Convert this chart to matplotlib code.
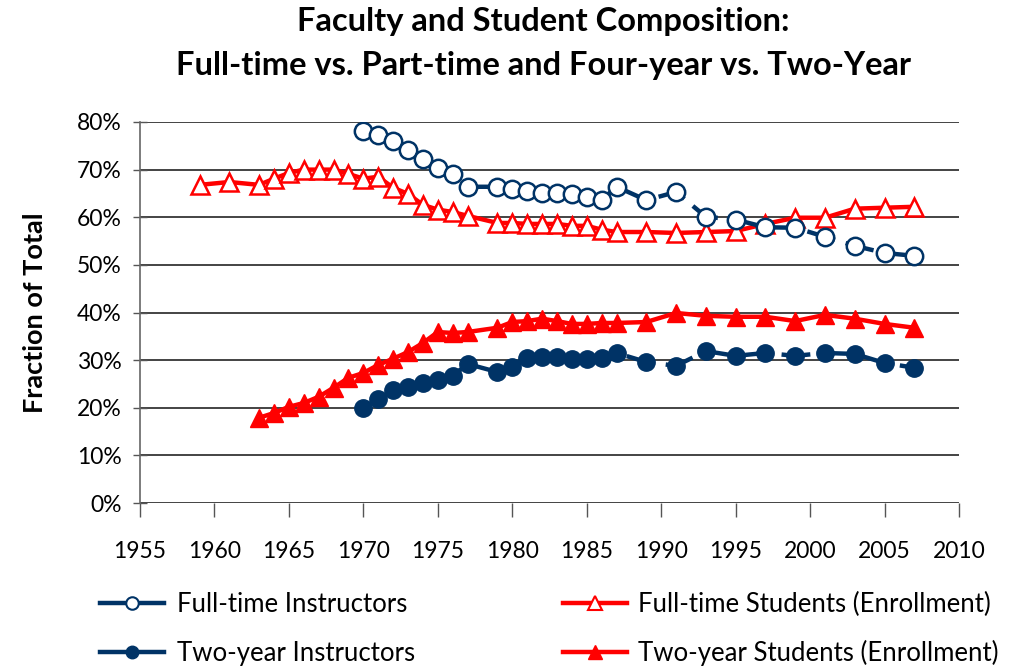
import matplotlib
matplotlib.use("Agg")
import matplotlib.pyplot as plt
from matplotlib.lines import Line2D
from matplotlib.ticker import PercentFormatter, MultipleLocator

plt.rcParams['font.family'] = ['Lato', 'DejaVu Sans']

# ---------------- data ----------------
fti_years = [1970, 1971, 1972, 1973, 1974, 1975, 1976, 1977, 1979, 1980, 1981, 1982,
             1983, 1984, 1985, 1986, 1987, 1989, 1991, 1993, 1995, 1997, 1999, 2001,
             2003, 2005, 2007]
fti_vals = [0.782, 0.773, 0.761, 0.742, 0.723, 0.704, 0.691, 0.664, 0.664, 0.660, 0.655,
            0.651, 0.651, 0.649, 0.643, 0.636, 0.664, 0.636, 0.653, 0.601, 0.595, 0.579,
            0.578, 0.559, 0.540, 0.525, 0.519]

tyi_years = fti_years
tyi_vals = [0.200, 0.218, 0.237, 0.244, 0.252, 0.258, 0.267, 0.292, 0.275, 0.286, 0.305,
            0.307, 0.307, 0.303, 0.303, 0.305, 0.315, 0.296, 0.288, 0.319, 0.309, 0.315,
            0.309, 0.315, 0.313, 0.294, 0.284]

fts_years = [1959, 1961, 1963, 1964, 1965, 1966, 1967, 1968, 1969, 1970, 1971, 1972, 1973,
             1974, 1975, 1976, 1977, 1979, 1980, 1981, 1982, 1983, 1984, 1985, 1986, 1987,
             1989, 1991, 1993, 1995, 1997, 1999, 2001, 2003, 2005, 2007]
fts_vals = [0.668, 0.674, 0.668, 0.681, 0.693, 0.700, 0.700, 0.700, 0.691, 0.681, 0.685,
            0.662, 0.649, 0.626, 0.616, 0.611, 0.603, 0.588, 0.588, 0.586, 0.586, 0.586,
            0.582, 0.582, 0.574, 0.569, 0.569, 0.567, 0.569, 0.571, 0.586, 0.599, 0.599,
            0.618, 0.620, 0.622]

tys_years = [1963, 1964, 1965, 1966, 1967, 1968, 1969, 1970, 1971, 1972, 1973, 1974, 1975,
             1976, 1977, 1979, 1980, 1981, 1982, 1983, 1984, 1985, 1986, 1987, 1989, 1991,
             1993, 1995, 1997, 1999, 2001, 2003, 2005, 2007]
tys_vals = [0.179, 0.189, 0.202, 0.210, 0.223, 0.242, 0.263, 0.273, 0.290, 0.303, 0.317,
            0.336, 0.359, 0.357, 0.359, 0.368, 0.380, 0.382, 0.387, 0.382, 0.376, 0.376,
            0.378, 0.378, 0.380, 0.399, 0.393, 0.391, 0.391, 0.382, 0.395, 0.387, 0.376,
            0.368]

labels = ["Full-time Instructors", "Two-year Instructors",
          "Full-time Students (Enrollment)", "Two-year Students (Enrollment)"]
title_lines = ["Faculty and Student Composition:",
               "Full-time vs. Part-time and Four-year vs. Two-Year"]

BLUE = "#003366"
RED = "#ff0000"

fig = plt.figure(figsize=(10.1, 6.68), dpi=100)
ax = fig.add_axes([140/1010, 1 - 503/668, (959-140)/1010, (503-122)/668])

dash = (0, (6.5, 2.5))
ax.plot(fts_years, fts_vals, color=RED, lw=3.2, marker='^', ms=13, mfc='white',
        mec=RED, mew=1.8, zorder=3)
ax.plot(tys_years, tys_vals, color=RED, lw=3.2, marker='^', ms=13, mfc=RED,
        mec=RED, zorder=3)
ax.plot(fti_years, fti_vals, color=BLUE, lw=3.2, ls=dash, marker='o', ms=12.5, mfc='white',
        mec=BLUE, mew=1.8, zorder=4)
ax.plot(tyi_years, tyi_vals, color=BLUE, lw=3.2, ls=dash, marker='o', ms=12.5, mfc=BLUE,
        mec=BLUE, zorder=4)

ax.set_xlim(1955, 2010)
ax.set_ylim(0, 0.8)
ax.xaxis.set_major_locator(MultipleLocator(5))
ax.yaxis.set_major_locator(MultipleLocator(0.1))
ax.yaxis.set_major_formatter(PercentFormatter(1.0, decimals=0))
ax.grid(axis='y', color='#111111', lw=1.1)
ax.set_axisbelow(True)
for s in ['top', 'right', 'bottom']:
    ax.spines[s].set_visible(False)
ax.spines['left'].set_color('#666666')
ax.spines['left'].set_linewidth(1.2)
ax.tick_params(axis='y', direction='inout', length=10, width=1, color='#555555',
               labelsize=16.5, pad=8)
ax.tick_params(axis='x', direction='out', length=10, width=1, color='#555555',
               labelsize=16.5, pad=17)
ax.set_ylabel("Fraction of Total", fontsize=19.5, fontweight='bold', labelpad=22)

fig.text(0.538, 1 - 22/668, title_lines[0], ha='center', va='center',
         fontsize=23.5, fontweight='bold')
fig.text(0.538, 1 - 66/668, title_lines[1], ha='center',
         va='center', fontsize=23.5, fontweight='bold')

h1 = Line2D([], [], color=BLUE, lw=3.2, marker='o', ms=9, mfc='white', mec=BLUE, mew=1.5)
h2 = Line2D([], [], color=BLUE, lw=3.2, marker='o', ms=9, mfc=BLUE, mec=BLUE)
h3 = Line2D([], [], color=RED, lw=3.2, marker='^', ms=10, mfc='white', mec=RED, mew=1.5)
h4 = Line2D([], [], color=RED, lw=3.2, marker='^', ms=10, mfc=RED, mec=RED)

common = dict(loc='center left', frameon=False, fontsize=18.5, handlelength=2.5,
              borderpad=0, borderaxespad=0, labelspacing=0.9)
leg1 = fig.legend([h1, h2], labels[:2], bbox_to_anchor=(100/1010, 1 - 629/668),
                  handletextpad=0.5, **common)
leg2 = fig.legend([h3, h4], labels[2:], bbox_to_anchor=(563/1010, 1 - 629/668),
                  handletextpad=0.4, **common)

fig.savefig("out.png", dpi=100)
